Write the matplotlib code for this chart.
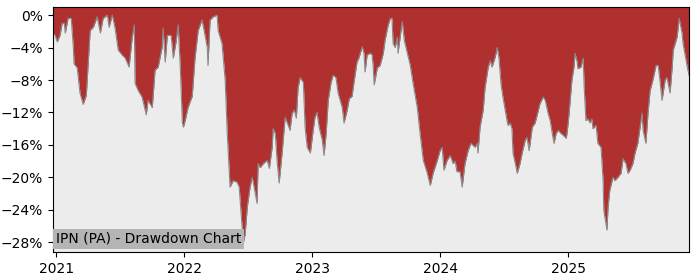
import matplotlib
matplotlib.use("Agg")
import matplotlib.pyplot as plt
import matplotlib.dates as mdates
import matplotlib.ticker as mticker
import pandas as pd

title = "IPN (PA) - Drawdown Chart"

dates = [
    "2020-12-23", "2020-12-29", "2021-01-04", "2021-01-12", "2021-01-18", "2021-01-24", "2021-01-27",
    "2021-02-04", "2021-02-13", "2021-02-19", "2021-02-21", "2021-03-02", "2021-03-10", "2021-03-19",
    "2021-03-28", "2021-03-30", "2021-04-08", "2021-04-17", "2021-04-28", "2021-05-07", "2021-05-15",
    "2021-05-27", "2021-06-01", "2021-06-10", "2021-06-18", "2021-06-27", "2021-07-08", "2021-07-17",
    "2021-07-28", "2021-08-06", "2021-08-12", "2021-08-14", "2021-08-23", "2021-09-03", "2021-09-15",
    "2021-09-20", "2021-10-02", "2021-10-10", "2021-10-19", "2021-10-30", "2021-11-02", "2021-11-08",
    "2021-11-14", "2021-11-25", "2021-12-01", "2021-12-09", "2021-12-15", "2021-12-21", "2021-12-27",
    "2021-12-30", "2022-01-04", "2022-01-12", "2022-01-24", "2022-02-01", "2022-02-10", "2022-02-21",
    "2022-02-27", "2022-03-08", "2022-03-10", "2022-03-16", "2022-03-25", "2022-04-05", "2022-04-08",
    "2022-04-19", "2022-04-25", "2022-04-28", "2022-05-04", "2022-05-12", "2022-05-21", "2022-06-01",
    "2022-06-07", "2022-06-16", "2022-06-18", "2022-06-24", "2022-06-30", "2022-07-08", "2022-07-14",
    "2022-07-17", "2022-07-28", "2022-07-31", "2022-08-06", "2022-08-15", "2022-08-26", "2022-09-01",
    "2022-09-09", "2022-09-12", "2022-09-18", "2022-09-23", "2022-09-29", "2022-10-08", "2022-10-16",
    "2022-10-25", "2022-10-30", "2022-11-05", "2022-11-11", "2022-11-17", "2022-11-22", "2022-11-28",
    "2022-12-07", "2022-12-12", "2022-12-18", "2022-12-27", "2023-01-04", "2023-01-09", "2023-01-15",
    "2023-01-21", "2023-01-30", "2023-02-04", "2023-02-10", "2023-02-16", "2023-02-24", "2023-03-02",
    "2023-03-10", "2023-03-16", "2023-03-28", "2023-04-02", "2023-04-11", "2023-04-17", "2023-04-25",
    "2023-04-28", "2023-05-09", "2023-05-15", "2023-05-24", "2023-05-29", "2023-06-01", "2023-06-07",
    "2023-06-16", "2023-06-21", "2023-06-24", "2023-06-27", "2023-07-06", "2023-07-14", "2023-07-23",
    "2023-07-28", "2023-08-06", "2023-08-12", "2023-08-17", "2023-08-20", "2023-08-26", "2023-09-01",
    "2023-09-03", "2023-09-15", "2023-09-21", "2023-09-29", "2023-10-08", "2023-10-16", "2023-10-28",
    "2023-11-05", "2023-11-14", "2023-11-25", "2023-12-04", "2023-12-12", "2023-12-24", "2024-01-01",
    "2024-01-07", "2024-01-12", "2024-01-21", "2024-01-30", "2024-02-07", "2024-02-13", "2024-02-18",
    "2024-02-27", "2024-03-04", "2024-03-12", "2024-03-21", "2024-03-29", "2024-04-10", "2024-04-16",
    "2024-04-18", "2024-04-24", "2024-05-03", "2024-05-08", "2024-05-17", "2024-05-23", "2024-05-28",
    "2024-06-06", "2024-06-12", "2024-06-17", "2024-06-23", "2024-06-29", "2024-07-10", "2024-07-13",
    "2024-07-19", "2024-07-24", "2024-07-27", "2024-08-05", "2024-08-08", "2024-08-16", "2024-08-22",
    "2024-08-31", "2024-09-05", "2024-09-11", "2024-09-20", "2024-09-28", "2024-10-04", "2024-10-12",
    "2024-10-21", "2024-10-27", "2024-11-04", "2024-11-10", "2024-11-16", "2024-11-21", "2024-11-27",
    "2024-12-03", "2024-12-11", "2024-12-17", "2024-12-26", "2024-12-29", "2025-01-03", "2025-01-11",
    "2025-01-17", "2025-01-20", "2025-01-26", "2025-01-28", "2025-02-06", "2025-02-12", "2025-02-15",
    "2025-02-20", "2025-02-26", "2025-03-04", "2025-03-09", "2025-03-12", "2025-03-21", "2025-03-26",
    "2025-04-04", "2025-04-10", "2025-04-12", "2025-04-15", "2025-04-21", "2025-04-24", "2025-04-29",
    "2025-05-08", "2025-05-14", "2025-05-22", "2025-05-31", "2025-06-06", "2025-06-14", "2025-06-20",
    "2025-06-26", "2025-07-04", "2025-07-10", "2025-07-18", "2025-07-30", "2025-08-02", "2025-08-10",
    "2025-08-16", "2025-08-22", "2025-08-30", "2025-09-08", "2025-09-14", "2025-09-19", "2025-09-25",
    "2025-10-04", "2025-10-09", "2025-10-18", "2025-10-24", "2025-10-27", "2025-11-07", "2025-11-13",
    "2025-11-21", "2025-11-24", "2025-12-06", "2025-12-11",
]

drawdown = [
    -2.2, -2.5, -3.3, -2.5, -1.0, -1.0, -2.2,
    -0.4, -0.4, -4.0, -6.0, -6.5, -9.6, -11.0,
    -9.9, -8.4, -1.9, -1.5, -0.2, -2.2, -0.4,
    0.0, -1.5, 0.0, -1.6, -4.3, -4.9, -5.3,
    -6.4, -2.7, -1.2, -8.4, -9.3, -10.1, -12.3,
    -10.5, -11.4, -6.8, -6.4, -4.0, -1.6, -5.8,
    -2.5, -2.5, -5.3, -3.3, -1.2, -6.4, -13.3,
    -13.8, -13.0, -11.4, -10.0, -5.3, -1.9, -0.6,
    -1.9, -4.0, -6.2, -0.6, -0.2, 0.0, -1.9,
    -3.5, -6.4, -8.0, -14.6, -21.2, -20.4, -20.6,
    -21.2, -26.5, -28.2, -27.0, -23.7, -21.2, -20.0,
    -20.6, -23.2, -18.3, -18.8, -18.3, -17.9, -18.9,
    -16.3, -14.0, -14.6, -17.9, -20.7, -16.7, -12.6,
    -13.6, -14.2, -12.1, -11.7, -12.7, -8.9, -7.7,
    -8.3, -13.8, -16.3, -17.0, -14.2, -12.6, -12.0,
    -13.8, -15.4, -17.3, -14.6, -10.5, -8.3, -7.4,
    -7.7, -9.6, -11.4, -13.3, -11.7, -10.3, -10.0,
    -9.0, -5.8, -5.2, -3.9, -4.7, -7.0, -4.9,
    -4.7, -4.9, -6.2, -8.6, -6.5, -6.2, -4.7,
    -3.1, -1.2, -0.4, -0.4, -3.5, -4.0, -2.7,
    -4.7, -0.8, -3.1, -4.6, -6.2, -8.4, -11.4,
    -14.6, -17.9, -19.4, -21.0, -19.5, -17.9, -16.7,
    -16.3, -19.1, -17.9, -17.3, -18.3, -18.0, -19.3,
    -19.3, -21.2, -18.3, -16.7, -15.8, -16.3, -15.8,
    -17.0, -13.8, -11.7, -9.0, -6.5, -5.6, -6.4,
    -5.2, -4.0, -5.3, -8.6, -10.3, -13.0, -13.6,
    -13.3, -14.0, -17.0, -18.8, -19.5, -18.3, -17.0,
    -15.4, -15.1, -16.7, -13.8, -13.3, -12.3, -10.9,
    -10.1, -10.5, -12.1, -13.0, -14.6, -15.8, -14.6,
    -14.2, -14.6, -14.8, -15.2, -14.2, -12.1, -8.0,
    -6.4, -4.7, -5.8, -6.6, -6.4, -5.3, -8.9,
    -13.0, -12.8, -13.3, -12.8, -14.0, -13.6, -15.8,
    -16.3, -20.4, -24.1, -24.9, -26.5, -23.7, -21.6,
    -20.0, -20.4, -20.0, -19.5, -17.7, -18.3, -19.5,
    -19.1, -18.3, -17.0, -15.8, -12.1, -14.2, -15.8,
    -12.1, -9.3, -8.0, -6.2, -6.2, -8.0, -10.5,
    -8.0, -7.7, -9.6, -6.4, -4.3, -2.7, -0.4,
    -2.2, -3.5, -6.4, -7.4,
]

yticks = [0, -4, -8, -12, -16, -20, -24, -28]

x = pd.to_datetime(dates)
ylo, yhi = -29.2, 1.0

fig = plt.figure(figsize=(7, 2.8), dpi=100)
ax = fig.add_axes([53 / 700, 1 - 252 / 280, (689 - 53) / 700, (252 - 7) / 280])
ax.set_facecolor("#ececec")

ax.fill_between(x, drawdown, yhi, color="#b03030", linewidth=0)
ax.plot(x, drawdown, color="#8a8a8a", linewidth=0.8)

ax.set_xlim(x[0], x[-1])
ax.set_ylim(ylo, yhi)
ax.set_yticks(yticks)
ax.yaxis.set_major_formatter(mticker.FuncFormatter(lambda v, p: f"{v:.0f}%".replace("-", "\u2212")))
ax.xaxis.set_major_locator(mdates.YearLocator())
ax.xaxis.set_major_formatter(mdates.DateFormatter("%Y"))
ax.tick_params(labelsize=10)

ax.text(0.005, 0.025, title, transform=ax.transAxes, fontsize=10, ha="left", va="bottom",
        bbox=dict(boxstyle="square,pad=0.2", facecolor="#b4b4b4", edgecolor="none"), zorder=5)

fig.savefig("out.png", dpi=100)
